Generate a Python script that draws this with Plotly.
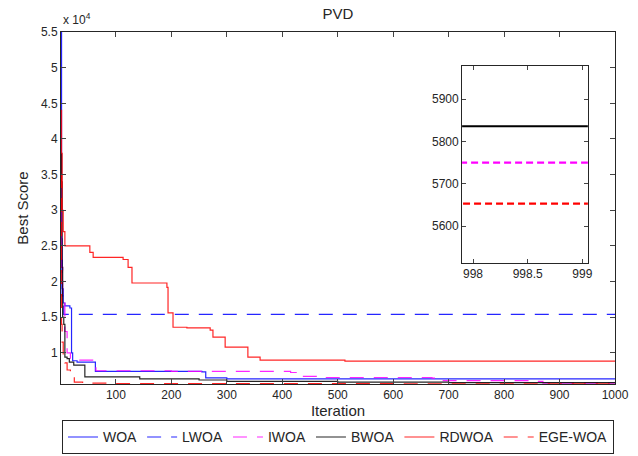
import plotly.graph_objects as go

# ---- data (iteration, best score) step points ----
woa_x = [1, 2, 3, 5, 8, 17, 20, 22, 30, 62, 63, 255, 262, 300, 1000]
woa_y = [55000, 26000, 19000, 17000, 16600, 16300, 10000, 8900, 8700, 8700, 7400, 7350, 6500, 6350, 6350]

lwoa_x = [1, 3, 6, 1000]
lwoa_y = [23000, 18000, 15400, 15400]

iwoa_x = [1, 2, 4, 8, 12, 18, 60, 64, 200, 415, 430, 470, 670, 690, 850, 870, 1000]
iwoa_y = [30000, 22000, 17000, 13000, 10000, 9000, 8800, 7500, 7400, 7250, 6700, 6550, 6450, 6100, 6000, 5750, 5750]

bwoa_x = [1, 2, 3, 4, 6, 8, 12, 16, 24, 44, 143, 250, 300, 500, 700, 1000]
bwoa_y = [38000, 34000, 22000, 15000, 14000, 9400, 9200, 8700, 8300, 6650, 6350, 6200, 6000, 5900, 5836, 5836]

rdwoa_x = [1, 2, 3, 5, 8, 53, 59, 113, 122, 129, 192, 194, 203, 228, 270, 275, 297, 333, 338, 360, 513, 1000]
rdwoa_y = [44000, 38000, 30000, 27000, 25000, 24100, 23400, 23100, 22000, 19800, 19200, 15600, 13600, 13500, 13200, 12200,
           10800, 10800, 9400, 9000, 8850, 8850]

ege_x = [1, 2, 3, 5, 8, 12, 18, 25, 40, 100, 300, 600, 1000]
ege_y = [35000, 14000, 11500, 9500, 8600, 7600, 6500, 5900, 5750, 5700, 5680, 5653, 5653]

names = ["WOA", "LWOA", "IWOA", "BWOA", "RDWOA", "EGE-WOA"]
xs = [woa_x, lwoa_x, iwoa_x, bwoa_x, rdwoa_x, ege_x]
ys = [woa_y, lwoa_y, iwoa_y, bwoa_y, rdwoa_y, ege_y]
colors = ["#0000ff", "#0000ff", "#ff00ff", "#000000", "#ff0000", "#ff0000"]
dashes = ["solid", "14px,10px", "14px,10px", "solid", "solid", "14px,10px"]
inset_dashes = ["solid", "7px,4px", "7px,4px", "solid", "solid", "7px,4px"]

y_ticks = [10000, 15000, 20000, 25000, 30000, 35000, 40000, 45000, 50000, 55000]
y_tick_labels = ["1", "1.5", "2", "2.5", "3", "3.5", "4", "4.5", "5", "5.5"]
x_ticks = [100, 200, 300, 400, 500, 600, 700, 800, 900, 1000]
inset_x_ticks = [998, 998.5, 999]
inset_y_ticks = [5600, 5700, 5800, 5900]

FONT = "Liberation Sans, Arial, sans-serif"
fig = go.Figure()

for n, x, y, c, d in zip(names, xs, ys, colors, dashes):
    fig.add_trace(go.Scatter(x=x, y=y, name=n, mode="lines", line_shape="hv",
                             line=dict(color=c, width=1.2, dash=d), opacity=0.85,
                             xaxis="x", yaxis="y"))
for n, x, y, c, d in zip(names, xs, ys, colors, inset_dashes):
    fig.add_trace(go.Scatter(x=x, y=y, name=n, mode="lines", line_shape="hv",
                             line=dict(color=c, width=2.2, dash=d), showlegend=False,
                             xaxis="x2", yaxis="y2"))

axcol = "#262626"
fig.update_layout(
    width=638, height=456,
    margin=dict(l=61, r=23, t=32, b=72, autoexpand=False),
    paper_bgcolor="white", plot_bgcolor="white",
    font=dict(family=FONT, size=12, color=axcol),
    title=dict(text="PVD", x=0.5, xref="paper", y=1 - 14 / 456, yanchor="middle",
               font=dict(size=15, color=axcol)),
    xaxis=dict(range=[1, 1000], tickvals=x_ticks, ticks="inside", ticklen=5,
               showline=True, linecolor=axcol, linewidth=1, mirror="ticks",
               showgrid=False, zeroline=False, automargin=False,
               title=dict(text="Iteration", font=dict(size=15), standoff=2),
               tickfont=dict(size=12)),
    yaxis=dict(range=[5640, 55000], tickvals=y_ticks, ticktext=y_tick_labels,
               ticks="inside", ticklen=5, automargin=False,
               showline=True, linecolor=axcol, linewidth=1, mirror="ticks",
               showgrid=False, zeroline=False,
               title=dict(text="Best Score", font=dict(size=15), standoff=8),
               tickfont=dict(size=12)),
    xaxis2=dict(domain=[0.724, 0.951], anchor="y2", range=[997.9, 999.05],
                tickvals=inset_x_ticks, ticktext=["998", "998.5", "999"],
                ticks="inside", ticklen=4, showline=True, linecolor=axcol,
                linewidth=1, mirror="ticks", showgrid=False, zeroline=False,
                automargin=False, tickfont=dict(size=12)),
    yaxis2=dict(domain=[0.344, 0.903], anchor="x2", range=[5513, 5978],
                tickvals=inset_y_ticks, ticks="inside", ticklen=4, showline=True,
                linecolor=axcol, linewidth=1, mirror="ticks", showgrid=False,
                zeroline=False, automargin=False, tickfont=dict(size=12)),
    legend=dict(orientation="h", x=0.5, xanchor="center", y=-0.2, yanchor="bottom",
                bordercolor=axcol, borderwidth=1, bgcolor="white",
                font=dict(size=14, color=axcol), itemwidth=30,
                tracegroupgap=0),
    showlegend=True,
)

fig.add_annotation(text="x 10<sup>4</sup>", xref="paper", yref="paper",
                   x=0, y=1, xanchor="left", yanchor="bottom", yshift=3,
                   showarrow=False, font=dict(size=12, color=axcol))

fig.write_html("out.html")
